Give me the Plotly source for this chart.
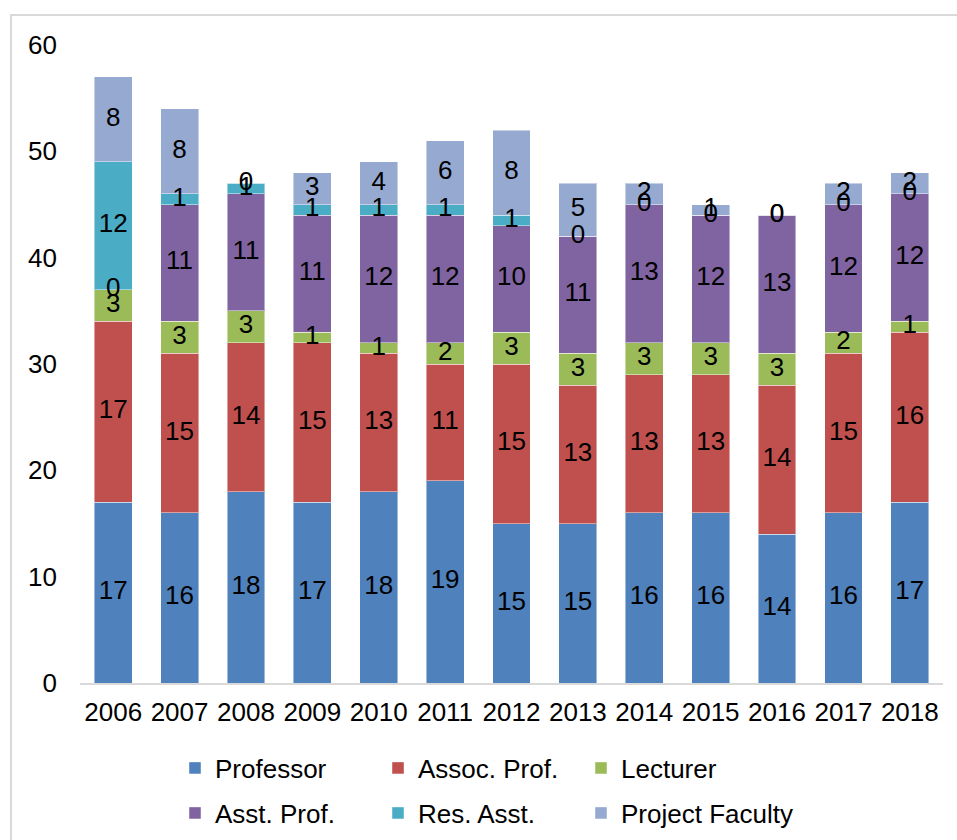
import plotly.graph_objects as go

years = ["2006", "2007", "2008", "2009", "2010", "2011", "2012",
         "2013", "2014", "2015", "2016", "2017", "2018"]

professor = [17, 16, 18, 17, 18, 19, 15, 15, 16, 16, 14, 16, 17]
assoc_prof = [17, 15, 14, 15, 13, 11, 15, 13, 13, 13, 14, 15, 16]
lecturer = [3, 3, 3, 1, 1, 2, 3, 3, 3, 3, 3, 2, 1]
asst_prof = [0, 11, 11, 11, 12, 12, 10, 11, 13, 12, 13, 12, 12]
res_asst = [12, 1, 1, 1, 1, 1, 1, 0, 0, 0, 0, 0, 0]
project_faculty = [8, 8, 0, 3, 4, 6, 8, 5, 2, 1, 0, 2, 2]

series = [
    ("Professor", professor, "#4F81BD", "legend"),
    ("Assoc. Prof.", assoc_prof, "#C0504D", "legend"),
    ("Lecturer", lecturer, "#9BBB59", "legend"),
    ("Asst. Prof.", asst_prof, "#8064A2", "legend2"),
    ("Res. Asst.", res_asst, "#4BACC6", "legend2"),
    ("Project Faculty", project_faculty, "#95A9D1", "legend2"),
]

FONT = "Liberation Sans, Arial, sans-serif"
FS = 26

fig = go.Figure()

for name, vals, color, leg in series:
    fig.add_trace(go.Bar(
        x=years, y=vals, name=name, legend=leg,
        legendwidth=230 if name in ("Lecturer", "Project Faculty") else None,
        marker=dict(color=color, line=dict(color="rgba(255,255,255,0.45)", width=1)),
        hoverinfo="x+y+name",
    ))

# value labels, centred in each stacked segment
lab_x, lab_y, lab_t = [], [], []
base = [0] * len(years)
for name, vals, color, leg in series:
    for i, v in enumerate(vals):
        lab_x.append(years[i])
        lab_y.append(base[i] + v / 2)
        lab_t.append(str(v))
        base[i] += v

fig.add_trace(go.Scatter(
    x=lab_x, y=lab_y, text=lab_t, mode="text",
    textposition="middle center",
    textfont=dict(family=FONT, size=FS, color="#000000"),
    showlegend=False, hoverinfo="skip",
))

legend_common = dict(
    orientation="h", xanchor="left", yanchor="middle",
    xref="container", yref="container",
    traceorder="normal",
    entrywidth=158, entrywidthmode="pixels",
    font=dict(family=FONT, size=FS, color="#000000"),
    bgcolor="rgba(0,0,0,0)", itemclick=False, itemdoubleclick=False,
    tracegroupgap=0,
)

fig.update_layout(
    width=957, height=840,
    margin=dict(l=80, r=14, t=45, b=157),
    paper_bgcolor="white", plot_bgcolor="white",
    barmode="stack", bargap=0.43,
    font=dict(family=FONT, size=FS, color="#000000"),
    legend=dict(x=175 / 957, y=1 - 768 / 840, **legend_common),
    legend2=dict(x=175 / 957, y=1 - 813 / 840, **legend_common),
    xaxis=dict(
        type="category", showgrid=False, zeroline=False,
        showline=True, linecolor="#D9D9D9", linewidth=2,
        ticks="", ticklabelstandoff=5,
        tickfont=dict(family=FONT, size=FS, color="#000000"),
        range=[-0.5, len(years) - 0.5],
    ),
    yaxis=dict(
        range=[0, 60], dtick=10, showgrid=False, zeroline=False,
        showline=False, ticks="", ticklabelstandoff=22,
        tickfont=dict(family=FONT, size=FS, color="#000000"),
    ),
    shapes=[dict(
        type="rect", xref="paper", yref="paper",
        x0=(11 - 80) / 863, x1=(970 - 80) / 863,
        y0=(683 - 860) / 638, y1=(683 - 15) / 638,
        line=dict(color="#D9D9D9", width=2), fillcolor="rgba(0,0,0,0)",
        layer="below",
    )],
)

fig.write_html("out.html")
